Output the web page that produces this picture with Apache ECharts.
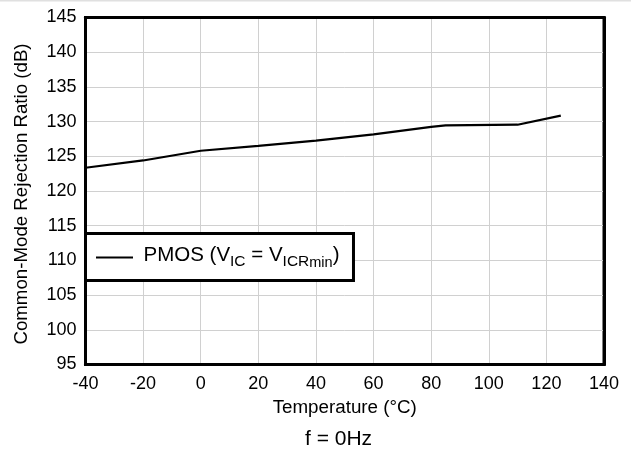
<!DOCTYPE html>
<html>
<head>
<meta charset="utf-8">
<script src="https://cdn.jsdelivr.net/npm/echarts@6/dist/echarts.min.js"></script>
<style>html,body{margin:0;padding:0;background:#fff;}#c{width:631px;height:449px;}</style>
</head>
<body>
<div id="c"></div>
<script>
const temperatures = [-40, -20, 0, 20, 40, 60, 80, 85, 110, 125];
const cmrrPmos = [123.35, 124.4, 125.8, 126.5, 127.25, 128.15, 129.25, 129.45, 129.55, 130.85];
const seriesName = 'PMOS';
const xTitle = 'Temperature (°C)';
const yTitle = 'Common-Mode Rejection Ratio (dB)';
const footnote = 'f = 0Hz';

const FONT = 'Liberation Sans, Arial, sans-serif';
const chart = echarts.init(document.getElementById('c'), null, {renderer: 'canvas'});
const frame = {show: true, onZero: false, lineStyle: {color: '#000', width: 3}};
const grid = {left: 85.5, top: 17.5, right: 27, bottom: 84.5, show: true, borderColor: '#000', borderWidth: 3, backgroundColor: 'transparent'};
chart.setOption({
  animation: false,
  backgroundColor: '#fff',
  grid: grid,
  xAxis: [{
    type: 'value', min: -40, max: 140, interval: 20, position: 'bottom',
    name: xTitle, nameLocation: 'middle', nameGap: 27.5,
    nameTextStyle: {fontFamily: FONT, fontSize: 18.8, color: '#000'},
    axisLine: frame, axisTick: {show: false},
    axisLabel: {fontFamily: FONT, fontSize: 18, color: '#000', margin: 11},
    splitLine: {show: true, lineStyle: {color: '#d0d0d0', width: 1}}
  }, {
    type: 'value', min: -40, max: 140, interval: 20, position: 'top',
    axisLine: frame, axisTick: {show: false}, axisLabel: {show: false}, splitLine: {show: false}
  }],
  yAxis: [{
    type: 'value', min: 95, max: 145, interval: 5, position: 'left',
    name: yTitle, nameLocation: 'middle', nameGap: 54,
    nameTextStyle: {fontFamily: FONT, fontSize: 18.7, color: '#000', padding: [0, 6, 0, 0]},
    axisLine: frame, axisTick: {show: false},
    axisLabel: {fontFamily: FONT, fontSize: 18, color: '#000', margin: 9},
    splitLine: {show: true, lineStyle: {color: '#d0d0d0', width: 1}}
  }, {
    type: 'value', min: 95, max: 145, interval: 5, position: 'right',
    axisLine: frame, axisTick: {show: false}, axisLabel: {show: false}, splitLine: {show: false}
  }],
  legend: {
    show: true, left: 85.5, top: 233.5, orient: 'vertical',
    padding: [11, 14, 10, 10.5],
    backgroundColor: '#fff', borderColor: '#000', borderWidth: 3, borderRadius: 0,
    itemWidth: 37, itemHeight: 2.2, icon: 'rect',
    data: [seriesName],
    formatter: function () {
      return '{a|PMOS (V}{s|IC}{b| = V}{s|ICR}{m|min}{e|)}';
    },
    textStyle: {
      fontFamily: FONT, color: '#000',
      rich: {
        a: {fontFamily: FONT, fontSize: 20.5, color: '#000', verticalAlign: 'bottom', padding: [0, 0, 5, 5.5]},
        b: {fontFamily: FONT, fontSize: 20.5, color: '#000', verticalAlign: 'bottom', padding: [0, 0, 5, 0]},
        e: {fontFamily: FONT, fontSize: 20.5, color: '#000', verticalAlign: 'bottom', padding: [0, 0, 5, 0]},
        s: {fontFamily: FONT, fontSize: 15.5, color: '#000', verticalAlign: 'bottom', padding: [0, 0, 0.5, 0]},
        m: {fontFamily: FONT, fontSize: 14.5, color: '#000', verticalAlign: 'bottom', padding: [0, 0, 0, 0]}
      }
    }
  },
  graphic: [
    {type: 'rect', shape: {x: 0, y: 0, width: 631, height: 1.5}, style: {fill: '#e0e0e0'}, silent: true},
    {type: 'text', left: 305, top: 429, style: {text: footnote, fontFamily: FONT, fontSize: 21, fill: '#000'}}
  ],
  series: [{
    name: seriesName, type: 'line', symbol: 'none', xAxisIndex: 0, yAxisIndex: 0,
    lineStyle: {color: '#000', width: 2.2}, itemStyle: {color: '#000'},
    data: temperatures.map((t, i) => [t, cmrrPmos[i]]), z: 3
  }]
});
</script>
</body>
</html>
